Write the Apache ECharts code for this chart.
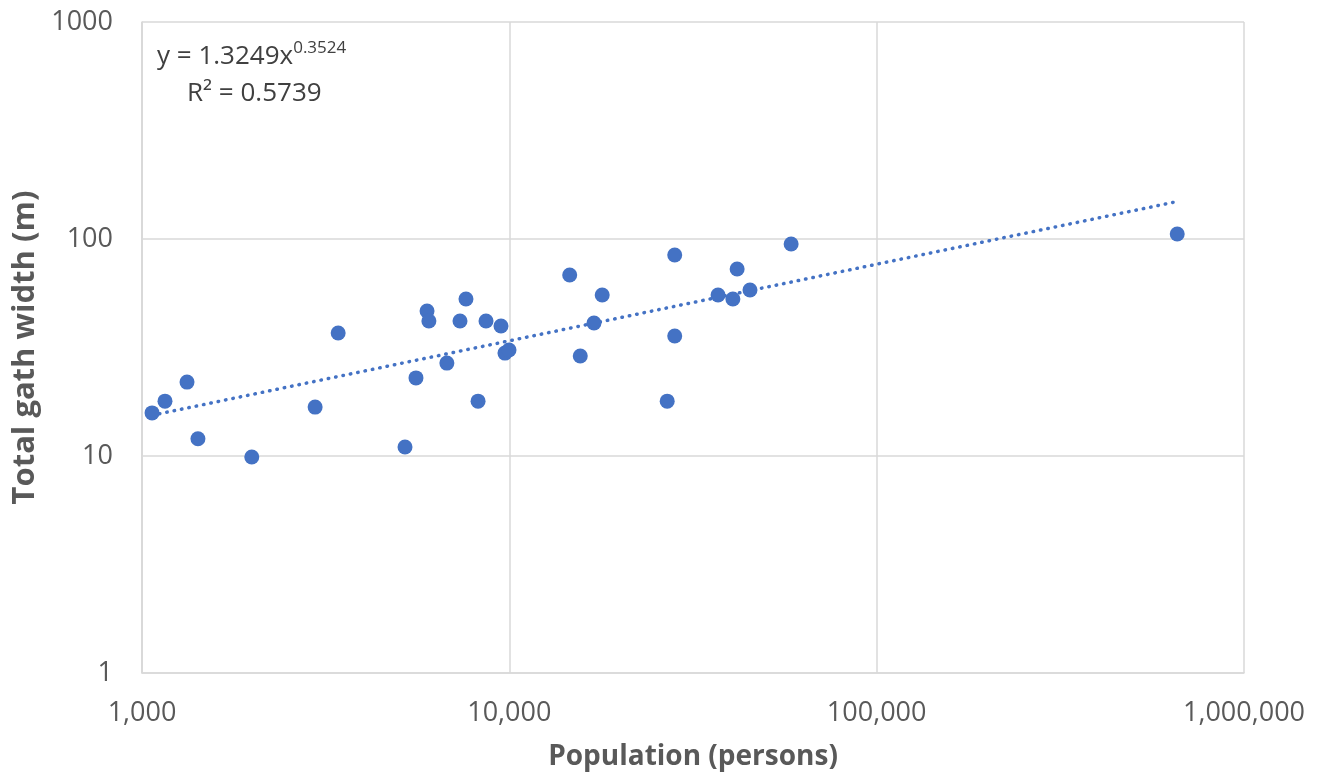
<!DOCTYPE html>
<html>
<head>
<meta charset="utf-8">
<title>Total gath width vs population</title>
<script src="https://cdn.jsdelivr.net/npm/echarts@6/dist/echarts.min.js"></script>
<style>
  html, body { margin: 0; padding: 0; background: #ffffff; }
  #chart { width: 1325px; height: 778px; }
</style>
</head>
<body>
<div id="chart"></div>
<script>
// population (persons) and total gath width (m)
var population = [
  1065, 1155, 1326, 1420, 1990, 2960, 3420, 5200, 5570, 5970, 6040,
  6760, 7340, 7620, 8220, 8640, 9490, 9730, 9980, 14600, 15600, 17000,
  17900, 26900, 28200, 28200, 37000, 40600, 41700, 45200, 58500, 658000
];
var gathWidth = [
  15.8, 17.9, 21.9, 12.0, 9.9, 16.8, 36.9, 11.0, 22.9, 46.6, 41.9,
  26.8, 41.9, 52.9, 17.9, 41.9, 39.7, 29.8, 30.8, 68.2, 28.9, 41.0,
  55.2, 17.9, 84.4, 35.7, 55.2, 52.9, 72.7, 58.2, 94.8, 105.4
];
// ends of the power trendline as drawn
var trendX = [1065, 658000];
var trendY = [15.4, 148.8];

var xTicks = [1000, 10000, 100000, 1000000];
var yTicks = [1, 10, 100, 1000];

var blue = "#4472c4";
var grey = "#595959";
var font = "'Open Sans', 'Noto Sans', sans-serif";

var points = population.map(function (p, i) {
  return [p, gathWidth[i]];
});
var trend = trendX.map(function (p, i) {
  return [p, trendY[i]];
});

var myChart = echarts.init(document.getElementById("chart"));
var option = {
  animation: false,
  backgroundColor: "#ffffff",
  textStyle: { fontFamily: font },
  grid: {
    left: 142,
    right: 81,
    top: 22,
    bottom: 105,
  },
  xAxis: {
    type: "log",
    logBase: 10,
    min: xTicks[0],
    max: xTicks[xTicks.length - 1],
    splitNumber: 3,
    name: "Population (persons)",
    nameLocation: "middle",
    nameGap: 70,
    nameTextStyle: {
      fontSize: 28,
      fontWeight: "bold",
      color: grey,
      fontFamily: font,
    },
    axisLine: { show: true, lineStyle: { color: "#d9d9d9", width: 1.5 } },
    axisTick: { show: false },
    minorTick: { show: false },
    splitLine: { show: true, lineStyle: { color: "#d9d9d9", width: 1.5 } },
    axisLabel: {
      margin: 27,
      fontSize: 27,
      color: grey,
      fontFamily: font,
      formatter: function (v) {
        return Number(v).toLocaleString("en-US");
      },
    },
  },
  yAxis: {
    type: "log",
    logBase: 10,
    min: yTicks[0],
    max: yTicks[yTicks.length - 1],
    splitNumber: 3,
    name: "Total gath width (m)",
    nameLocation: "middle",
    nameGap: 94,
    nameTextStyle: {
      fontSize: 31,
      fontWeight: "bold",
      color: grey,
      fontFamily: font,
    },
    axisLine: { show: true, lineStyle: { color: "#d9d9d9", width: 1.5 } },
    axisTick: { show: false },
    minorTick: { show: false },
    splitLine: { show: true, lineStyle: { color: "#d9d9d9", width: 1.5 } },
    axisLabel: {
      margin: 29,
      fontSize: 27,
      color: grey,
      fontFamily: font,
      formatter: function (v) {
        return String(Math.round(v));
      },
    },
  },
  series: [
    {
      name: "trend",
      type: "line",
      data: trend,
      showSymbol: false,
      silent: true,
      z: 1,
      lineStyle: {
        color: blue,
        width: 3.5,
        type: [0.5, 7],
        cap: "round",
      },
    },
    {
      name: "data",
      type: "scatter",
      data: points,
      symbol: "circle",
      symbolSize: 15,
      z: 3,
      itemStyle: { color: blue, opacity: 1 },
    },
  ],
  graphic: [
    {
      type: "text",
      left: 157,
      top: 40,
      style: {
        text: "{b|y = 1.3249x}{s|0.3524}",
        fontFamily: font,
        fill: "#404040",
        rich: {
          b: { fontSize: 26, fill: "#404040", fontFamily: font, verticalAlign: "bottom" },
          s: { fontSize: 17, fill: "#404040", fontFamily: font, verticalAlign: "top", padding: [0, 0, 13, 0] },
        },
      },
    },
    {
      type: "text",
      left: 187,
      top: 81,
      style: {
        text: "R\u00b2 = 0.5739",
        fontSize: 26,
        fontFamily: font,
        fill: "#404040",
      },
    },
  ],
};
option && myChart.setOption(option);
</script>
</body>
</html>
